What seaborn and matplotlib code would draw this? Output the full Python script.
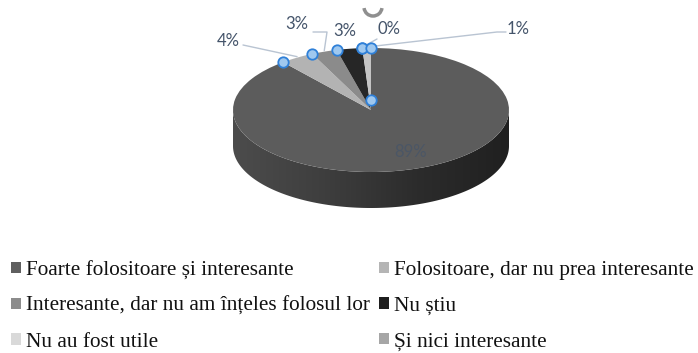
import numpy as np
import matplotlib
matplotlib.use("Agg")
import matplotlib.pyplot as plt
from matplotlib.patches import Patch, Polygon, Arc
import seaborn as sns

# Survey answers and their shares (percent)
categories = [
    "Foarte folositoare și interesante",
    "Folositoare, dar nu prea interesante",
    "Interesante, dar nu am înțeles folosul lor",
    "Nu știu",
    "Nu au fost utile",
    "Și nici interesante",
]
shares = [89, 4, 3, 3, 0, 1]
pct_labels = ["89%", "4%", "3%", "3%", "0%", "1%"]

sns.set_theme(style="white")
plt.rcParams["font.family"] = ["Lato", "DejaVu Sans"]

W, H = 698, 353
fig = plt.figure(figsize=(W / 100, H / 100), dpi=100)
ax = fig.add_axes([0, 0, 1, 1])

# Ellipse geometry of the tilted pie (pixels)
CX, CY, RX, RY, DEPTH = 371, 110, 138, 62, 36
K = RX / RY  # vertical stretch of data units so a circle shows as an ellipse


def px(x, y):
    """Pixel position (origin top-left) -> data coordinates."""
    return x, (H - y) * K


top_cols = ["#5c5c5c", "#b3b3b3", "#8b8b8b", "#262626", "#d6d6d6", "#c4c4c4"]
legend_cols = ["#5f5f5f", "#b5b5b5", "#8c8c8c", "#1e1e1e", "#d9d9d9", "#a6a6a6"]

# Side wall of the disc (front half only is visible)
t = np.linspace(np.pi, 2 * np.pi, 200)
ex = CX + RX * np.cos(t)
ey_top = CY - RY * np.sin(t)
ey_bot = ey_top + DEPTH
side_pts = [px(x, y) for x, y in zip(ex, ey_top)] + [px(x, y) for x, y in zip(ex[::-1], ey_bot[::-1])]
side = Polygon(side_pts, closed=True, facecolor="none", edgecolor="none")
ax.add_patch(side)
grad = np.linspace(0, 1, 256)[None, :]
cmap = matplotlib.colors.LinearSegmentedColormap.from_list(
    "wall", ["#4c4c4c", "#3e3e3e", "#2c2c2c", "#202020"])
img = ax.imshow(grad, cmap=cmap, aspect="auto",
                extent=(CX - RX, CX + RX, (H - CY - RY - DEPTH - 2) * K, (H - CY) * K),
                zorder=1, interpolation="bilinear")
img.set_clip_path(side)

# Top face of the pie
c0 = px(CX, CY)
wedges, _ = ax.pie(shares, colors=top_cols, startangle=90, counterclock=False,
                   radius=RX, center=c0, wedgeprops=dict(linewidth=0))
for w in wedges:
    w.set_zorder(2)
ax.set_aspect("auto")
ax.set_xlim(0, W)
ax.set_ylim(0, H * K)
ax.axis("off")

# Slice boundary angles (clockwise from 12 o'clock) on the rim
cum = np.concatenate([[0], np.cumsum(shares)]) / np.sum(shares) * 360.0


def rim(angle_deg):
    a = np.deg2rad(angle_deg)
    return CX + RX * np.sin(a), CY - RY * np.cos(a)


label_col = "#44546a"
lead_col = "#b9c4d2"
fs = 12

# 89% inside the large slice
ax.text(*px(411, 152), pct_labels[0], color="#44546a", fontsize=fs,
        ha="center", va="center", alpha=0.7, zorder=5)

# Outside labels with leader lines
label_pos = {1: (228, 41), 2: (297, 24), 3: (345, 31), 4: (389, 29), 5: (518, 29)}
lead_start = {1: [(243, 45)], 2: [(313, 32), (327, 32)], 3: None,
              4: [(377, 39)], 5: [(506, 32), (497, 32)]}
for i, (lx, ly) in label_pos.items():
    ax.text(*px(lx, ly), pct_labels[i], color=label_col, fontsize=fs,
            ha="center", va="center", zorder=5)
    mid = (cum[i] + cum[i + 1]) / 2
    ex_, ey_ = rim(mid)
    if lead_start[i]:
        pts = lead_start[i] + [(ex_, ey_ - 1)]
        xs, ys = zip(*[px(x, y) for x, y in pts])
        ax.plot(xs, ys, color=lead_col, lw=1.0, zorder=4)

# Selection handles at slice boundaries and the centre
hx, hy = [], []
for a in cum[1:]:
    x, y = rim(a)
    hx.append(x)
    hy.append(y)
hx.append(CX)
hy.append(CY - 10)
pts = [px(x, y) for x, y in zip(hx, hy)]
ax.plot([p[0] for p in pts], [p[1] for p in pts], ls="none", marker="o", ms=7.5,
        mfc="#9fc8ef", mec="#2f80d8", mew=1.3, zorder=6)

# Rotation handle above the chart
ax.add_patch(Arc(px(373, 7), 18, 18 * K, theta1=195, theta2=345,
                 color="#8f8f8f", lw=2.5, zorder=6))

# Legend in two columns, filled row by row
handles = [Patch(facecolor=c, edgecolor="none") for c in legend_cols]
order = [0, 2, 4, 1, 3, 5]
leg = fig.legend([handles[i] for i in order], [categories[i] for i in order],
                 ncol=2, loc="upper left", bbox_to_anchor=(11 / W, 1 - 261 / H),
                 frameon=False, prop={"family": "Liberation Serif", "size": 15.3},
                 handlelength=0.45, handleheight=0.45, handletextpad=0.25,
                 columnspacing=0.45, labelspacing=0.78, borderpad=0,
                 borderaxespad=0)
for txt in leg.get_texts():
    txt.set_color("#111111")

fig.savefig("out.png", dpi=100)
